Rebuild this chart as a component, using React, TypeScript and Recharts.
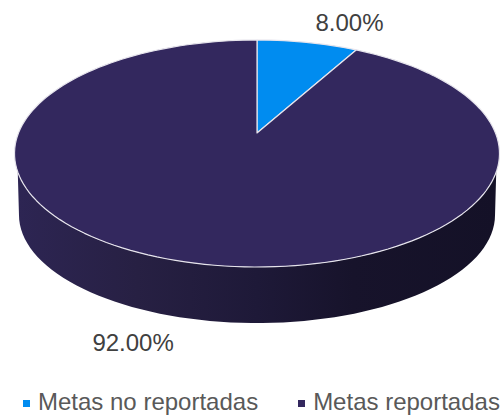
import React from 'react';
import { PieChart, Pie, Legend } from 'recharts';

const categories = ['Metas no reportadas', 'Metas reportadas'];
const values = [8, 92];
const colors = ['#008CF0', '#33285E'];
const tableData = categories.map((name, i) => ({ name, value: values[i], fill: colors[i] }));

// perspective of the disc
const K = 0.1806;
const B_RATIO = 109.8 / 238.5;
const RAD = Math.PI / 180;
const project = (cx: number, cy: number, r: number, tDeg: number) => {
  const u = Math.sin(tDeg * RAD);
  const v = Math.cos(tDeg * RAD);
  const d = 1 + K * v;
  return [cx + (r * u) / d, cy - (r * B_RATIO * v) / d];
};
const sample = (a: number, b: number, fn: (t: number) => number[]) => {
  const n = Math.max(2, Math.ceil(Math.abs(b - a) / 2));
  const pts: number[][] = [];
  for (let i = 0; i <= n; i++) pts.push(fn(a + ((b - a) * i) / n));
  return pts;
};
const toPath = (pts: number[][]) =>
  pts.map((p, i) => `${i ? 'L' : 'M'}${p[0].toFixed(2)},${p[1].toFixed(2)}`).join(' ');

const TopSlice = (p: any) => {
  const { cx, cy, outerRadius, startAngle, endAngle, fill } = p;
  const t0 = 90 - startAngle;
  const t1 = 90 - endAngle;
  const arc = sample(t0, t1, (t) => project(cx, cy, outerRadius, t));
  return <path d={`M${cx},${cy} ${toPath(arc).replace('M', 'L')} Z`} fill={fill} stroke="#E6E4EC" strokeWidth={1.2} strokeLinejoin="round" />;
};

const WALL_FROM = 109.5;
const WALL_TO = 250.5;
const WallSlice = (p: any) => {
  const { cx, cy, outerRadius, startAngle, endAngle } = p;
  const t0 = Math.max(90 - startAngle, WALL_FROM);
  const t1 = Math.min(90 - endAngle, WALL_TO);
  if (t1 <= t0) return <g />;
  const top = sample(t0, t1, (t) => project(cx, cy, outerRadius, t));
  const lowerCx = cx;
  const lowerCy = cy + 82;
  const lowerRx = outerRadius * 0.998;
  const lowerRy = outerRadius * 0.453;
  const lower = sample(t1, t0, (t) => {
    const s = 90 + ((t - WALL_FROM) / (WALL_TO - WALL_FROM)) * 180;
    return [lowerCx + lowerRx * Math.sin(s * RAD), lowerCy - lowerRy * Math.cos(s * RAD)];
  });
  return (
    <g>
      <defs>
        <linearGradient id="wallShade" x1="0" y1="0" x2="1" y2="0">
          <stop offset="0" stopColor="#2D2553" />
          <stop offset="0.25" stopColor="#272043" />
          <stop offset="0.5" stopColor="#1E1938" />
          <stop offset="0.7" stopColor="#17132B" />
          <stop offset="1" stopColor="#141127" />
        </linearGradient>
      </defs>
      <path d={`${toPath(top)} ${toPath(lower).replace('M', 'L')} Z`} fill="url(#wallShade)" stroke="none" />
    </g>
  );
};

const labelShift = [
  [42, -20],
  [-52, 81],
];
const renderLabel = (p: any) => {
  const { cx, cy, outerRadius, midAngle, index, value } = p;
  const [x, y] = project(cx, cy, outerRadius, 90 - midAngle);
  return (
    <text x={x + labelShift[index][0]} y={y + labelShift[index][1]} textAnchor="middle" dominantBaseline="central" fill="#404040" fontSize={24} fontFamily="'Liberation Sans', Arial, sans-serif">
      {`${Number(value).toFixed(2)}%`}
    </text>
  );
};

const LegendContent = () => (
  <div style={{ position: 'relative', height: 30, fontFamily: "'Liberation Sans', Arial, sans-serif", fontSize: 24, color: '#595959', whiteSpace: 'nowrap' }}>
    <div style={{ display: 'flex', alignItems: 'center', paddingLeft: 23 }}>
      {tableData.map((e, i) => (
        <span key={e.name} style={{ display: 'inline-flex', alignItems: 'center', marginRight: i === 0 ? 40 : 0 }}>
          <span style={{ display: 'inline-block', width: 7, height: 7, background: e.fill, marginRight: 8, marginTop: 2 }} />
          <span>{e.name}</span>
        </span>
      ))}
    </div>
  </div>
);

export default function App() {
  return (
    <div style={{ position: 'absolute', left: 0, top: 0, width: 500, height: 416 }}>
      <PieChart width={500} height={416} margin={{ top: 0, right: 0, bottom: 0, left: 0 }}>
        <Pie data={tableData} dataKey="value" nameKey="name" cx={257} cy={133} outerRadius={238.5} startAngle={90} endAngle={-270} isAnimationActive={false} legendType="none" shape={WallSlice} inactiveShape={WallSlice} label={false} labelLine={false} stroke="none" />
        <Pie data={tableData} dataKey="value" nameKey="name" cx={257} cy={133} outerRadius={238.5} startAngle={90} endAngle={-270} isAnimationActive={false} shape={TopSlice} inactiveShape={TopSlice} label={renderLabel} labelLine={false} />
        <Legend content={<LegendContent />} wrapperStyle={{ left: 0, top: 388, width: 500 }} />
      </PieChart>
    </div>
  );
}
